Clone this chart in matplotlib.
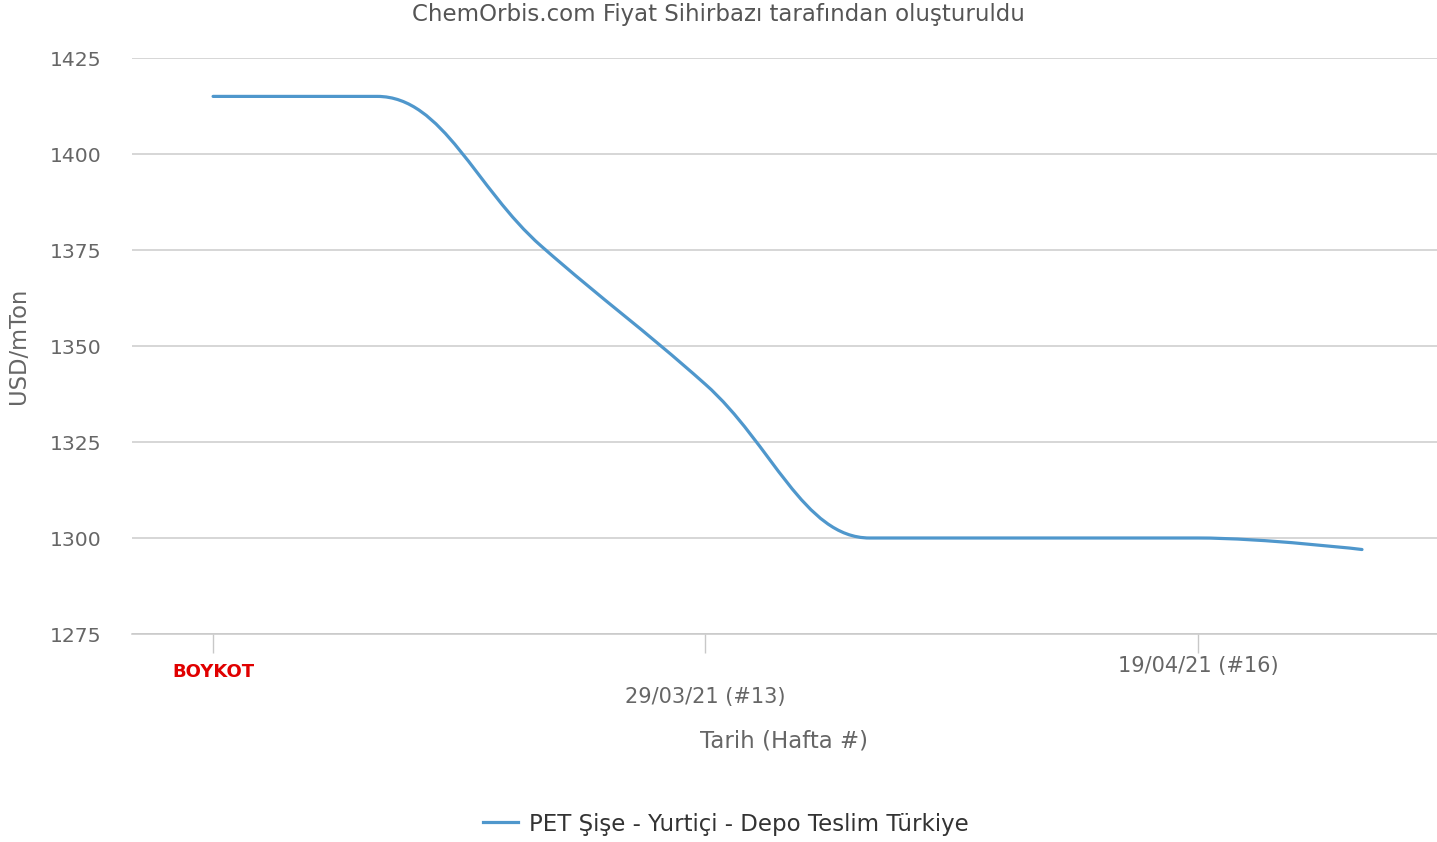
import matplotlib
matplotlib.use('Agg')
import matplotlib.pyplot as plt
from matplotlib.path import Path
from matplotlib.patches import PathPatch
from matplotlib.lines import Line2D

plt.rcParams['font.family'] = 'DejaVu Sans'

# weekly prices (week #10 .. #17)
weeks = [0, 1, 2, 3, 4, 5, 6, 7]
prices = [1415, 1415, 1376, 1340, 1300, 1300, 1300, 1297]
tick_pos = [0, 3, 6]
tick_labels = ['BOYKOT', '29/03/21 (#13)', '19/04/21 (#16)']
y_ticks = [1275, 1300, 1325, 1350, 1375, 1400, 1425]
series_name = 'PET Şişe - Yurtiçi - Depo Teslim Türkiye'

line_color = '#4f97cc'
grid_color = '#cccccc'
text_color = '#666666'


def spline_path(xs, ys, smoothing=1.5):
    # highcharts style spline control points
    n = len(xs)
    denom = smoothing + 1
    left = [None] * n
    right = [None] * n
    for i in range(1, n - 1):
        px, py = xs[i], ys[i]
        lx, ly = xs[i - 1], ys[i - 1]
        nx, ny = xs[i + 1], ys[i + 1]
        lcx = (smoothing * px + lx) / denom
        lcy = (smoothing * py + ly) / denom
        rcx = (smoothing * px + nx) / denom
        rcy = (smoothing * py + ny) / denom
        if rcx != lcx:
            corr = ((rcy - lcy) * (rcx - px)) / (rcx - lcx) + py - rcy
            lcy += corr
            rcy += corr
        if lcy > ly and lcy > py:
            lcy = max(ly, py)
            rcy = 2 * py - lcy
        elif lcy < ly and lcy < py:
            lcy = min(ly, py)
            rcy = 2 * py - lcy
        if rcy > ny and rcy > py:
            rcy = max(ny, py)
            lcy = 2 * py - rcy
        elif rcy < ny and rcy < py:
            rcy = min(ny, py)
            lcy = 2 * py - rcy
        left[i] = (lcx, lcy)
        right[i] = (rcx, rcy)
    verts = [(xs[0], ys[0])]
    codes = [Path.MOVETO]
    for i in range(1, n):
        c1 = right[i - 1] if right[i - 1] else (xs[i - 1], ys[i - 1])
        c2 = left[i] if left[i] else (xs[i], ys[i])
        verts += [c1, c2, (xs[i], ys[i])]
        codes += [Path.CURVE4] * 3
    return Path(verts, codes)


fig = plt.figure(figsize=(14.37, 8.42), dpi=100)
ax = fig.add_axes([132 / 1437, 1 - 634 / 842, 1305 / 1437, 576 / 842])

patch = PathPatch(spline_path(weeks, prices), facecolor='none', edgecolor=line_color,
                  linewidth=2.3, capstyle='round', joinstyle='round', zorder=3)
ax.add_patch(patch)

ax.set_xlim(-0.494, 7.457)
ax.set_ylim(1275, 1425)
ax.set_yticks(y_ticks)
ax.yaxis.grid(True, color=grid_color, linewidth=1.1)
ax.set_axisbelow(True)
for s in ['top', 'right', 'left']:
    ax.spines[s].set_visible(False)
ax.spines['bottom'].set_color('#c8c8c8')
ax.spines['bottom'].set_linewidth(1.1)

ax.tick_params(axis='y', length=0, pad=22, labelsize=14.7, labelcolor=text_color)
ax.set_xticks(tick_pos)
ax.set_xticklabels(tick_labels)
ax.tick_params(axis='x', length=14, width=1, color='#c8c8c8', labelsize=15, labelcolor=text_color)
pads = [7, 24, 2]
for t, p in zip(ax.xaxis.get_major_ticks(), pads):
    t.set_pad(p)
lbls = ax.get_xticklabels()
lbls[0].set_color('#e00000')
lbls[0].set_fontweight('bold')
lbls[0].set_fontsize(13)

ax.set_xlabel('Tarih (Hafta #)', fontsize=16.5, color=text_color)
ax.xaxis.set_label_coords(0.5, -0.165)
ax.set_ylabel('USD/mTon', fontsize=16.3, color=text_color)
ax.yaxis.set_label_coords(-0.078, 0.5)

fig.text(0.5, 1 - 14 / 842, 'ChemOrbis.com Fiyat Sihirbazı tarafından oluşturuldu',
         ha='center', va='center', fontsize=16.5, color='#555555')

handle = Line2D([], [], color=line_color, linewidth=2.3)
fig.legend([handle], [series_name], loc='center', bbox_to_anchor=(726 / 1437, 1 - 824 / 842),
           frameon=False, fontsize=16.5, handlelength=1.5, handletextpad=0.5,
           labelcolor='#333333')

fig.savefig('out.png', dpi=100)
